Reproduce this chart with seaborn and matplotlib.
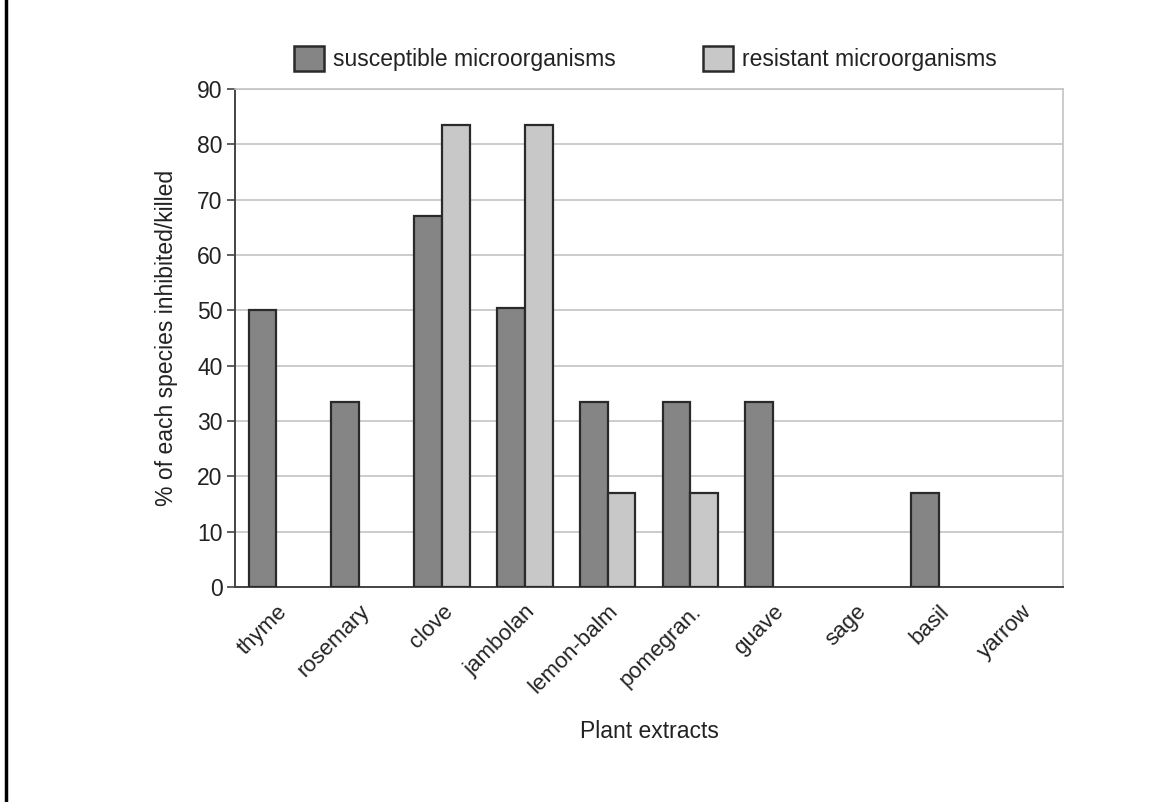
import numpy as np
import pandas as pd
import matplotlib
matplotlib.use("Agg")
import matplotlib.pyplot as plt
from matplotlib.lines import Line2D
import seaborn as sns

# values
extracts = ["thyme", "rosemary", "clove", "jambolan", "lemon-balm",
            "pomegran.", "guave", "sage", "basil", "yarrow"]
susceptible = [50, 33.5, 67, 50.5, 33.5, 33.5, 33.5, 0, 17, 0]
resistant = [0, 0, 83.5, 83.5, 17, 17, 0, 0, 0, 0]
series = ["susceptible microorganisms", "resistant microorganisms"]
yticks = list(range(0, 91, 10))

df = pd.DataFrame({
    "extract": extracts * 2,
    "value": susceptible + resistant,
    "group": [series[0]] * len(extracts) + [series[1]] * len(extracts),
})

sns.set_style("white")
plt.rcParams["font.family"] = ["Liberation Sans", "DejaVu Sans"]
fs = 16.5
edge = "#2a2a2a"

fig = plt.figure(figsize=(11.61, 8.02), dpi=100)
ax = fig.add_axes([0.2024, 0.268, 0.7132, 0.621])

sns.barplot(data=df, x="extract", y="value", hue="group", order=extracts,
            hue_order=series, palette=["#858585", "#c8c8c8"],
            width=0.67, gap=0, edgecolor=edge, linewidth=1.6,
            errorbar=None, legend=True, ax=ax, zorder=3)

# empty bars should not leave an outline on the axis
for p in ax.patches:
    if p.get_height() == 0:
        p.set_linewidth(0)

ax.set_ylim(0, 90)
ax.set_xlim(-0.5, len(extracts) - 0.5)
ax.set_yticks(yticks)
ax.set_yticklabels([str(t) for t in yticks], fontsize=fs, color="#222222")
ax.yaxis.grid(True, color="#c4c4c4", linewidth=1.2, zorder=0)
ax.set_axisbelow(True)

ax.set_xticks(range(len(extracts)))
ax.set_xticklabels(extracts, rotation=45, ha="right", rotation_mode="anchor",
                   fontsize=16, color="#222222")
ax.set_xticks(np.arange(-0.5, len(extracts)), minor=True)
ax.tick_params(axis="x", which="major", length=0, pad=10)
ax.tick_params(axis="x", which="minor", length=6, width=1.2, color="#444444",
               direction="out")
ax.tick_params(axis="y", length=6, width=1.2, color="#444444",
               direction="out", pad=3, left=True)

for side in ["left", "bottom"]:
    ax.spines[side].set_color("#444444")
    ax.spines[side].set_linewidth(1.4)
for side in ["top", "right"]:
    ax.spines[side].set_visible(True)
    ax.spines[side].set_color("#c4c4c4")
    ax.spines[side].set_linewidth(1.2)

ax.set_xlabel("Plant extracts", fontsize=fs, color="#222222", labelpad=16)
ax.set_ylabel("% of each species inhibited/killed", fontsize=fs,
              color="#222222", labelpad=14)

handles, labels = ax.get_legend_handles_labels()
ax.get_legend().remove()
leg = fig.legend(handles, labels, loc="center", bbox_to_anchor=(0.556, 0.927),
                 ncol=2, frameon=False, fontsize=fs, handlelength=1.3,
                 handleheight=1.3, handletextpad=0.4, columnspacing=3.8,
                 labelcolor="#222222")
for p in leg.get_patches():
    p.set_edgecolor(edge)
    p.set_linewidth(1.8)

# black frame line on the left edge of the page
fig.add_artist(Line2D([0.0055, 0.0055], [0, 1], color="black", linewidth=2.5,
                      transform=fig.transFigure))

fig.savefig("out.png", dpi=100, facecolor="white")
